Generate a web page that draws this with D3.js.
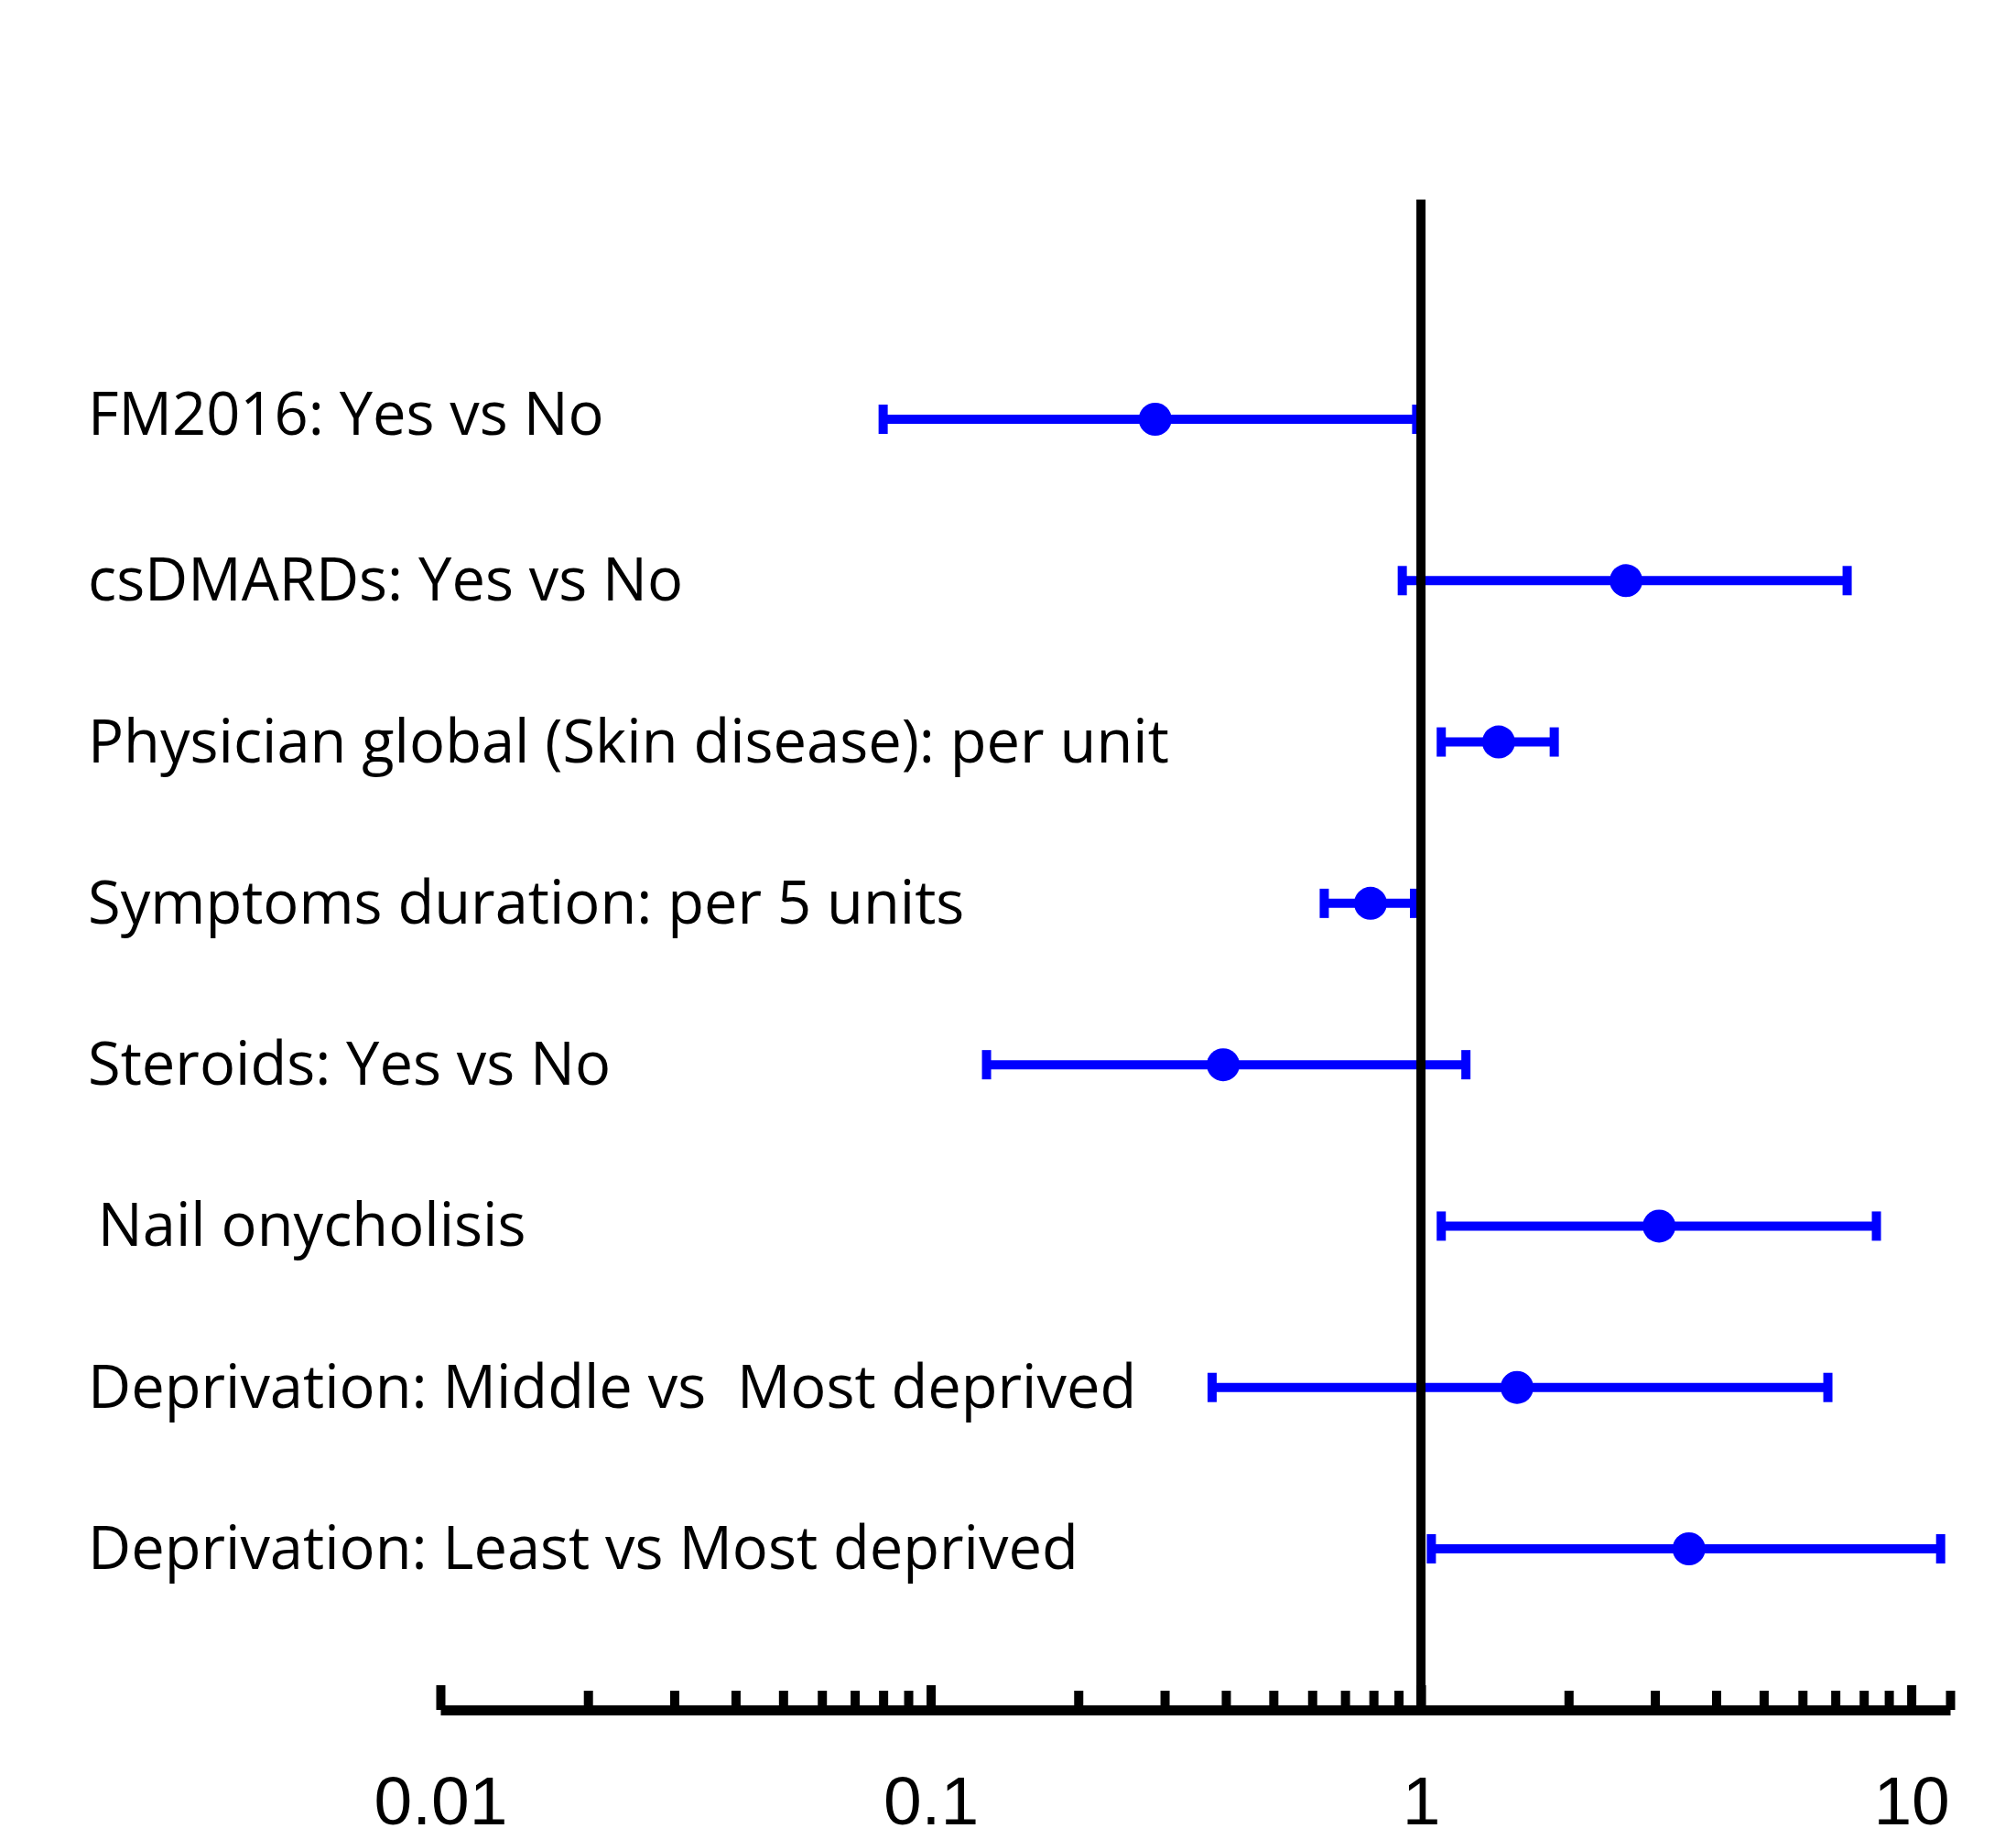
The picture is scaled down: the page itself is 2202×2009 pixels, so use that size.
<!DOCTYPE html>
<html>
<head>
<meta charset="utf-8">
<script src="https://cdn.jsdelivr.net/npm/d3@7"></script>
<style>
    html, body { margin: 0; padding: 0; background: #fff; }
    svg { display: block; }
    .label { font-family: "Open Sans", sans-serif; font-size: 65px; fill: #000; white-space: pre; }
    .tickLabel text { font-family: "Liberation Sans", Arial, sans-serif; font-size: 75px; fill: #000; }
</style>
</head>
<body>
<svg id="chart"></svg>
<script>

// rows, top to bottom
var labels = [
    "FM2016: Yes vs No",
    "csDMARDs: Yes vs No",
    "Physician global (Skin disease): per unit",
    "Symptoms duration: per 5 units",
    "Steroids: Yes vs No",
    "\u2006Nail onycholisis",
    "Deprivation: Middle vs  Most deprived",
    "Deprivation: Least vs Most deprived"
];

// odds ratio + 95% CI
var estimate = [0.287, 2.62, 1.44, 0.789, 0.395, 3.06, 1.57, 3.52];
var lower    = [0.080, 0.916, 1.10, 0.635, 0.130, 1.10, 0.375, 1.05];
var upper    = [0.98, 7.40, 1.87, 0.97, 1.235, 8.49, 6.76, 11.48];

// x axis
var majorTicks = [0.01, 0.1, 1, 10];
var majorTickLabels = ["0.01", "0.1", "1", "10"];
var minorMultipliers = [2, 3, 4, 5, 6, 7, 8, 9];
var axisMax = 12;

var width = 2202, height = 2009;
var axisY = 1868;
var lineTop = 218;

var svg = d3.select("#chart")
    .attr("width", width)
    .attr("height", height);

svg.append("rect")
    .attr("width", width)
    .attr("height", height)
    .attr("fill", "#fff");

var x = d3.scaleLog()
    .domain([0.01, axisMax])
    .range([481, 2130]);

var y = d3.scalePoint()
    .domain(d3.range(labels.length))
    .range([458, 1692]);

var rows = labels.map(function (d, i) {
    return { label: d, est: estimate[i], lo: lower[i], hi: upper[i], i: i };
});

// row labels
svg.append("g")
    .selectAll("text")
    .data(rows)
    .enter()
    .append("text")
    .attr("class", "label")
    .attr("x", 96)
    .attr("y", d => y(d.i) + (d.i === 0 ? 17 : 22))
    .text(d => d.label);

// error bars
var bars = svg.append("g")
    .selectAll("g")
    .data(rows)
    .enter()
    .append("g")
    .attr("transform", d => "translate(0," + y(d.i) + ")");

bars.append("line")
    .attr("x1", d => x(d.lo))
    .attr("x2", d => x(d.hi))
    .attr("stroke", "#0000ff")
    .attr("stroke-width", 10);

bars.selectAll(".cap")
    .data(d => [d.lo, d.hi])
    .enter()
    .append("line")
    .attr("class", "cap")
    .attr("x1", d => x(d))
    .attr("x2", d => x(d))
    .attr("y1", -16)
    .attr("y2", 16)
    .attr("stroke", "#0000ff")
    .attr("stroke-width", 10);

bars.append("circle")
    .attr("cx", d => x(d.est))
    .attr("r", 18)
    .attr("fill", "#0000ff");

// line of no effect
svg.append("line")
    .attr("x1", x(1))
    .attr("x2", x(1))
    .attr("y1", lineTop)
    .attr("y2", axisY)
    .attr("stroke", "#000")
    .attr("stroke-width", 10);

// minor ticks
var minorTicks = [];
majorTicks.forEach(function (m) {
    minorMultipliers.forEach(function (k) {
        if (m * k <= axisMax) minorTicks.push(m * k);
    });
});
minorTicks.push(axisMax);

var minorAxis = d3.axisTop(x)
    .tickValues(minorTicks)
    .tickSize(21)
    .tickSizeOuter(0)
    .tickFormat("");

var majorAxis = d3.axisTop(x)
    .tickValues(majorTicks)
    .tickSize(27)
    .tickSizeOuter(0)
    .tickFormat("");

var gMinor = svg.append("g")
    .attr("transform", "translate(0," + axisY + ")")
    .call(minorAxis);

var gMajor = svg.append("g")
    .attr("transform", "translate(0," + axisY + ")")
    .call(majorAxis);

gMinor.selectAll(".tick line, .domain")
    .attr("stroke", "#000")
    .attr("stroke-width", 10);
gMinor.select(".domain").attr("stroke-width", 11);
gMajor.select(".domain").remove();
gMajor.selectAll(".tick line")
    .attr("stroke", "#000")
    .attr("stroke-width", 10);

// tick labels
var labelAxis = d3.axisBottom(x)
    .tickValues(majorTicks)
    .tickSize(0)
    .tickFormat((d, i) => majorTickLabels[i]);

var gLabels = svg.append("g")
    .attr("class", "tickLabel")
    .attr("transform", "translate(0," + axisY + ")")
    .call(labelAxis);

gLabels.select(".domain").remove();
gLabels.selectAll("text")
    .attr("y", 125)
    .attr("dy", 0)
    .attr("font-size", null)
    .attr("font-family", null);

</script>
</body>
</html>
